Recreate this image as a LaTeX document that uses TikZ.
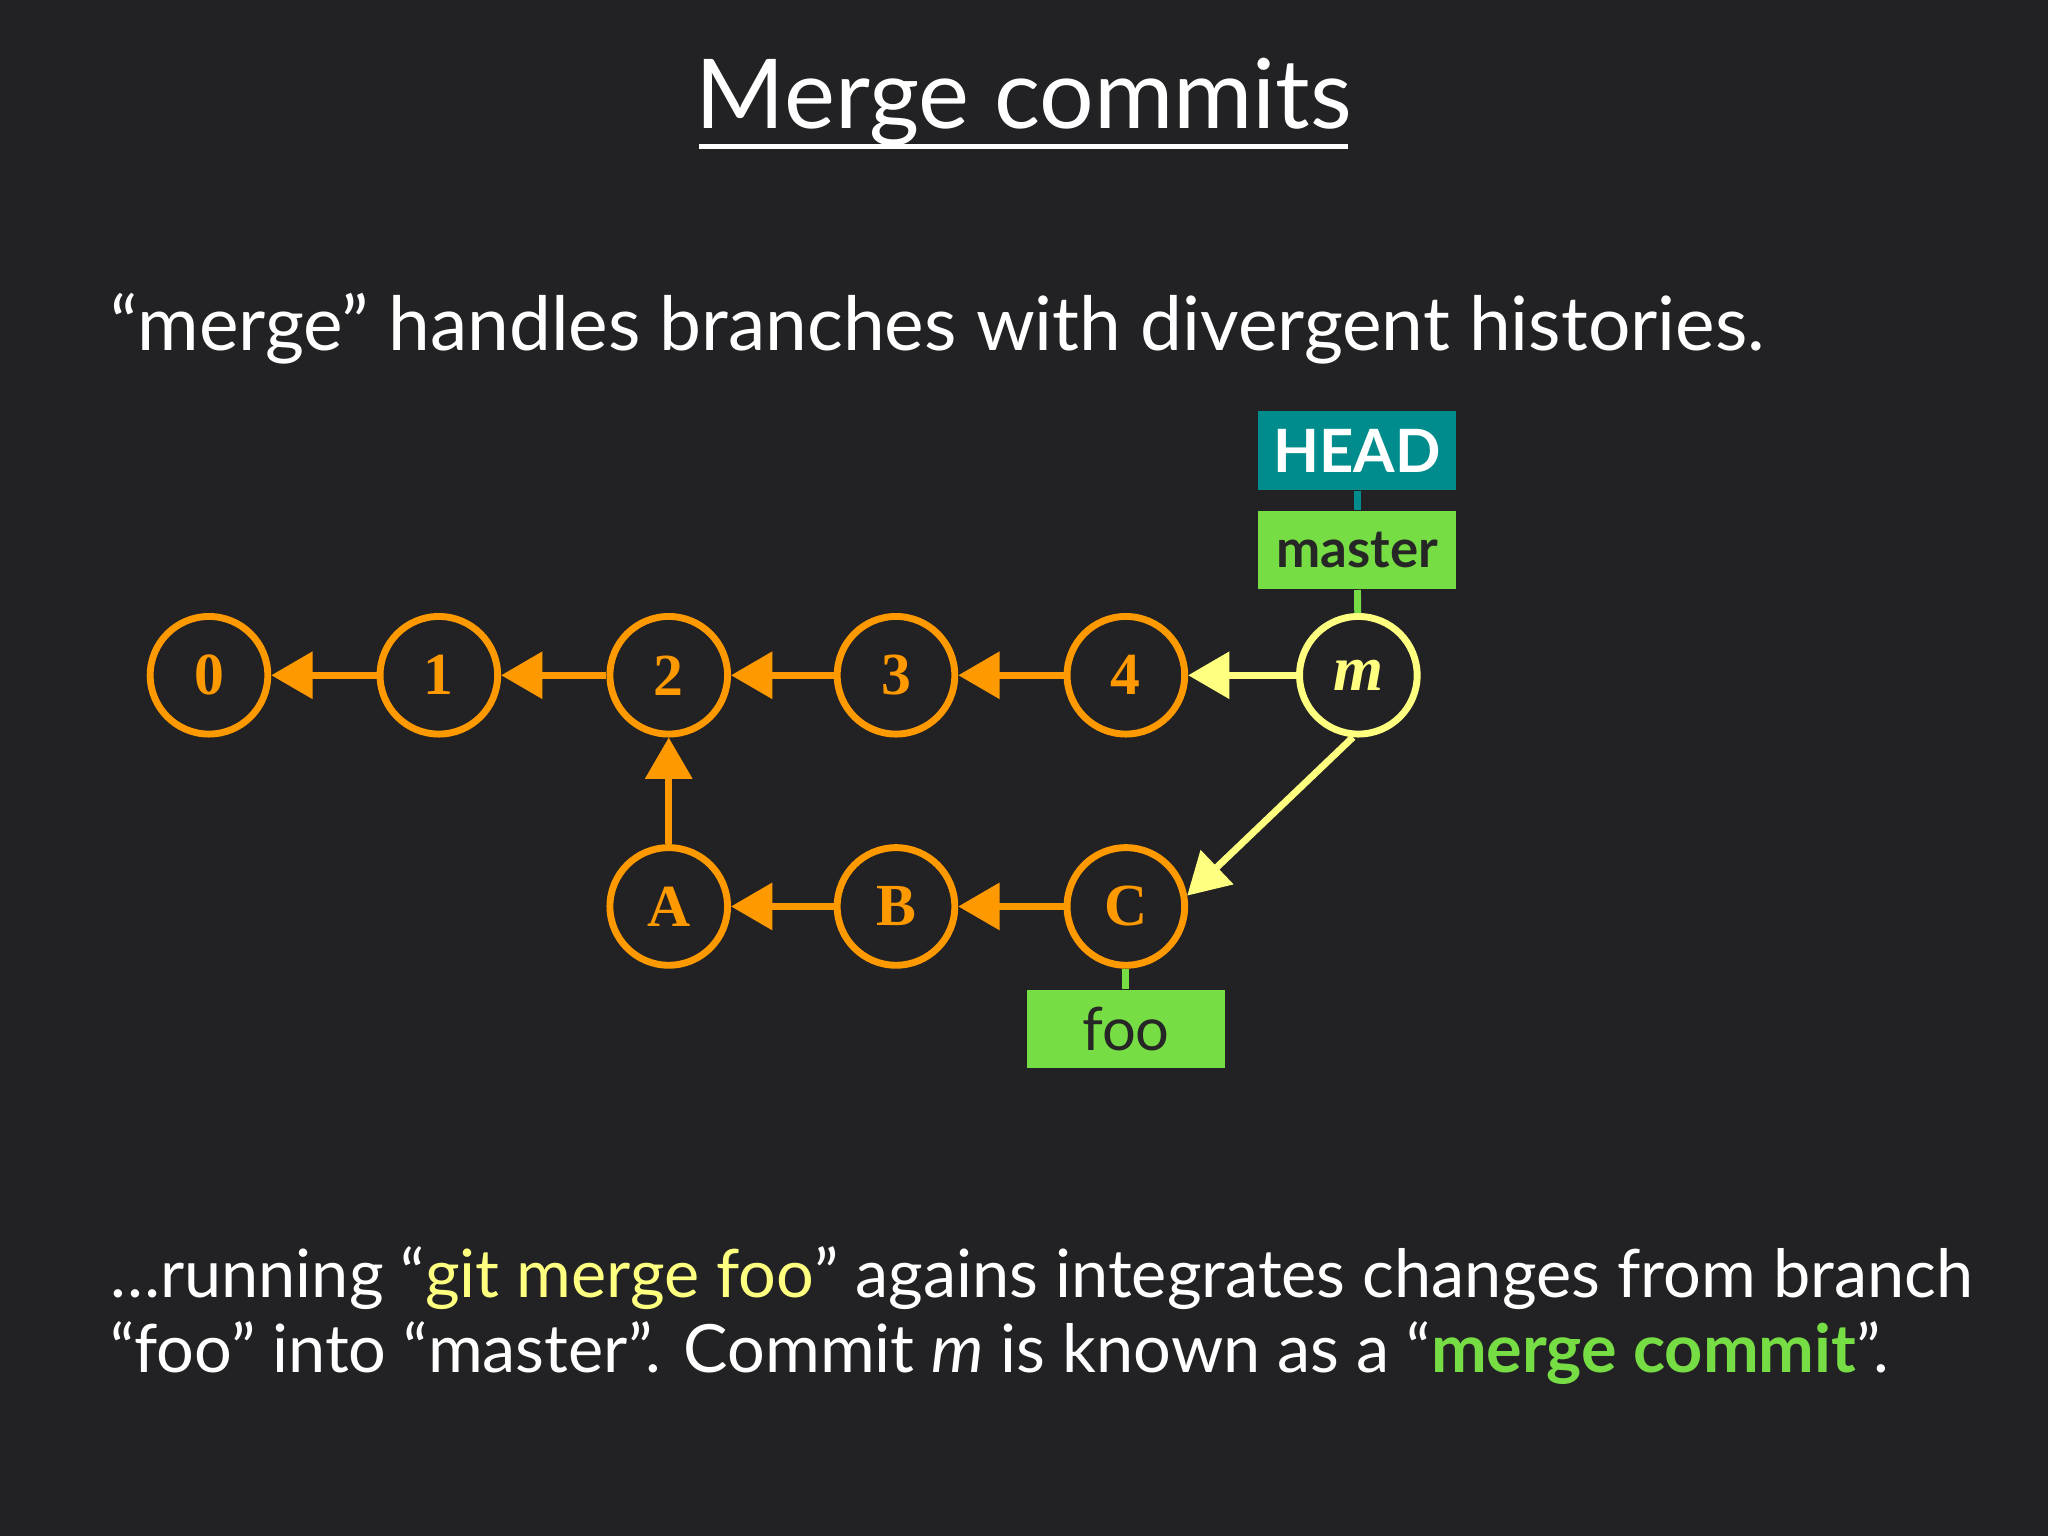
\documentclass[tikz,border=0pt]{standalone}
\usepackage{fontspec}
\setmainfont{Lato}
\newfontfamily\serifb{Liberation Serif}
\usetikzlibrary{arrows.meta}
\definecolor{bg}{HTML}{222224}
\definecolor{org}{HTML}{FF9900}
\definecolor{yel}{HTML}{FFFF80}
\definecolor{teal}{HTML}{008C8C}
\definecolor{grn}{HTML}{77DD44}
\tikzset{
 commit/.style={circle,draw=org,line width=1.5pt,minimum size=0.9cm,inner sep=0pt,text=org,font=\serifb\bfseries\fontsize{13}{13}\selectfont},
 mcommit/.style={commit,draw=yel,text=yel,font=\serifb\bfseries\itshape\fontsize{14}{14}\selectfont},
 edge/.style={draw=org,line width=1.5pt,-{Triangle[length=9pt,width=10pt]}},
 medge/.style={edge,draw=yel},
 lbl/.style={minimum width=1.52cm,minimum height=0.6cm,inner sep=0pt,font=\bfseries\fontsize{11.5}{11.5}\selectfont},
}
\begin{document}
\begin{tikzpicture}[x=0.01cm,y=-0.01cm]
\fill[bg] (0,0) rectangle (1568,1176);
\node[text=white,font=\fontsize{21}{21}\selectfont,inner sep=0pt] (title) at (784,78) {Merge commits};
\draw[white,line width=1pt] (535,112) -- (1032,112);
\node[text=white,font=\fontsize{16.3}{16.3}\selectfont,anchor=west] (sub) at (72,252) {“merge” handles branches with divergent histories.};
\node[commit] (c0) at (160,517) {0};
\node[commit] (c1) at (336,517) {1};
\node[commit] (c2) at (512,517) {2};
\node[commit] (c3) at (686,517) {3};
\node[commit] (c4) at (862,517) {4};
\node[mcommit] (m) at (1040,517) {m};
\node[commit] (a) at (512,694) {A};
\node[commit] (b) at (686,694) {B};
\node[commit] (c) at (862,694) {C};
\node[lbl,fill=teal,text=white,font=\bfseries\fontsize{13}{13}\selectfont] (head) at (1039,345) {HEAD};
\node[lbl,fill=grn,text=black!85] (master) at (1039,421) {master};
\node[lbl,fill=grn,text=black!85,font=\fontsize{13}{13}\selectfont] (foo) at (862,788) {foo};
\draw[teal,line width=1.5pt] (head) -- (master);
\draw[grn,line width=1.5pt] (master) -- (m);
\draw[grn,line width=1.5pt] (c) -- (foo);
\draw[edge] (c1) -- (c0);
\draw[edge] (c2) -- (c1);
\draw[edge] (c3) -- (c2);
\draw[edge] (c4) -- (c3);
\draw[medge] (m) -- (c4);
\draw[medge] (m.-95) -- (c.10);
\draw[edge] (a) -- (c2);
\draw[edge] (b) -- (a);
\draw[edge] (c) -- (b);
\node[text=white,font=\fontsize{14.5}{16.3}\selectfont,anchor=north west,align=left] (foot) at (72,942)
 {…running “\textcolor{yel}{git merge foo}” agains integrates changes from branch\\
 “foo” into “master”. Commit \textit{m} is known as a “\textcolor{grn}{\bfseries merge commit}”.};
\end{tikzpicture}
\end{document}
